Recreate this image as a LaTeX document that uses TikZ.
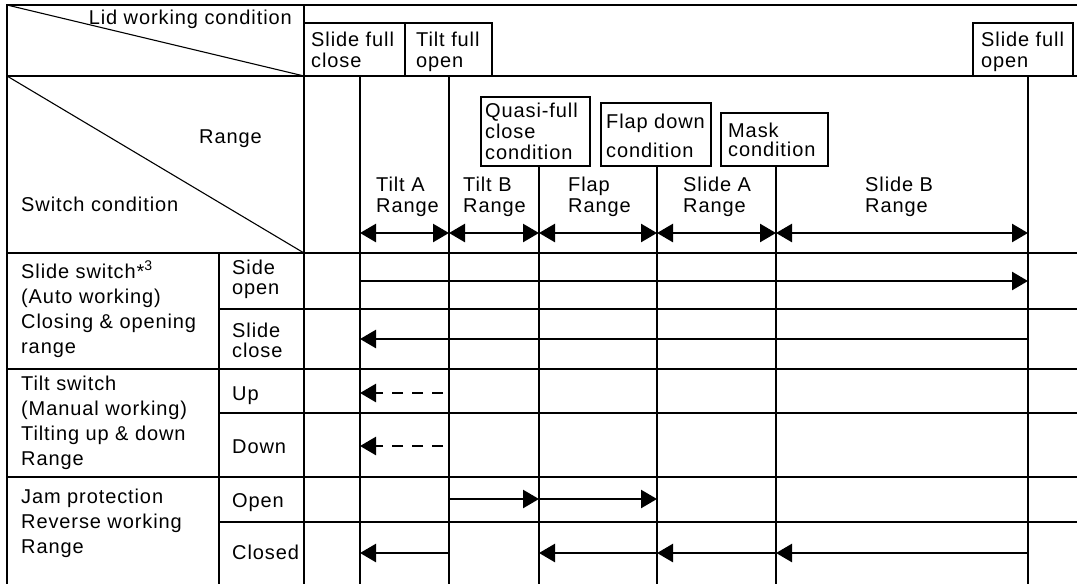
\documentclass[tikz,border=0pt]{standalone}
\usepackage{fontspec}
\setmainfont{Liberation Sans}[LetterSpace=4.5]
\usetikzlibrary{arrows.meta}
\begin{document}
\begin{tikzpicture}[x=1pt,y=-1pt,
  grid/.style={line width=1.1pt},
  arr/.style={line width=2.5pt,-{Triangle[length=16pt,width=18pt]}},
  rng/.style={line width=2.5pt,{Triangle[length=16pt,width=18pt]}-{Triangle[length=16pt,width=18pt]}},
  dsh/.style={arr,dash pattern=on 11pt off 9pt},
  txt/.style={inner sep=0pt,align=left,font=\fontsize{20}{25}\selectfont},
  tA/.style={inner sep=0pt,align=left,font=\fontsize{20}{21}\selectfont},
  tB/.style={inner sep=0pt,align=left,font=\fontsize{20}{29}\selectfont},
  tC/.style={inner sep=0pt,align=left,font=\fontsize{20}{19}\selectfont},
  tD/.style={inner sep=0pt,align=left,font=\fontsize{20}{20}\selectfont}]
\useasboundingbox (0,0) rectangle (1077,584);
% named positions
\coordinate (c1) at (360,0);
\coordinate (c2) at (449,0);
\coordinate (c3) at (539,0);
\coordinate (c4) at (657,0);
\coordinate (c5) at (776,0);
\coordinate (c6) at (1028,0);
\coordinate (cd) at (443,0);
\coordinate (rR) at (0,233);
\coordinate (r1) at (0,281);
\coordinate (r2) at (0,339);
\coordinate (r3) at (0,393);
\coordinate (r4) at (0,446);
\coordinate (r5) at (0,499);
\coordinate (r6) at (0,553);
% grid
\draw[grid] (7,584) -- (7,5) -- (1077,5);
\foreach \y in {76,253,369,477} \draw[grid] (7,\y) -- (1077,\y);
\foreach \y in {309,413,522} \draw[grid] (219,\y) -- (1077,\y);
\draw[grid] (219,253) -- (219,584);
\draw[grid] (304,5) -- (304,584);
\foreach \x in {360,449,1028} \draw[grid] (\x,76) -- (\x,584);
\foreach \x in {539,657,776} \draw[grid] (\x,166) -- (\x,584);
\draw[grid] (7,5) -- (304,76);
\draw[grid] (7,76) -- (304,253);
\draw[grid] (304,23) -- (492,23) -- (492,76);
\draw[grid] (405,23) -- (405,76);
\draw[grid] (973,76) -- (973,23) -- (1073,23) -- (1073,76);
\draw[grid] (481,97) rectangle (590,166);
\draw[grid] (601,103) rectangle (711,166);
\draw[grid] (721,113) rectangle (828,166);
% header texts
\node[txt,anchor=base east] (lid) at (292,24) {Lid working condition};
\node[txt,anchor=base west] (rngh) at (199,143) {Range};
\node[txt,anchor=base west] (swc) at (21,211) {Switch condition};
\node[tA,anchor=north west] (sfc) at (311,31.7) {Slide full\\close};
\node[tA,anchor=north west] (tfo) at (416,31.7) {Tilt full\\open};
\node[tA,anchor=north west] (sfo) at (981,31.7) {Slide full\\open};
\node[tA,anchor=north west] (qfc) at (485,102.7) {Quasi-full\\close\\condition};
\node[tB,anchor=north west] (fdc) at (606,113.7) {Flap down\\condition};
\node[tC,anchor=north west] (msk) at (728,122.7) {Mask\\condition};
\node[tA,anchor=north west] (ta) at (376,176.7) {Tilt A\\Range};
\node[tA,anchor=north west] (tb) at (463,176.7) {Tilt B\\Range};
\node[tA,anchor=north west] (fl) at (568,176.7) {Flap\\Range};
\node[tA,anchor=north west] (sa) at (683,176.7) {Slide A\\Range};
\node[tA,anchor=north west] (sb) at (865,176.7) {Slide B\\Range};
% left texts
\node[txt,anchor=north west] (g1) at (21,263.7) {Slide switch*\smash{\textsuperscript{3}}\\(Auto working)\\Closing \& opening\\range};
\node[txt,anchor=north west] (g2) at (21,375.7) {Tilt switch\\(Manual working)\\Tilting up \& down\\Range};
\node[txt,anchor=north west] (g3) at (21,488.7) {Jam protection\\Reverse working\\Range};
\node[tD,anchor=north west] (s1) at (232,259.7) {Side\\open};
\node[tD,anchor=north west] (s2) at (232,322.4) {Slide\\close};
\node[txt,anchor=base west] (s3) at (232,400) {Up};
\node[txt,anchor=base west] (s4) at (232,453) {Down};
\node[txt,anchor=base west] (s5) at (232,507) {Open};
\node[txt,anchor=base west] (s6) at (232,559) {Closed};
% range arrows
\draw[rng] (c1|-rR) -- (c2|-rR);
\draw[rng] (c2|-rR) -- (c3|-rR);
\draw[rng] (c3|-rR) -- (c4|-rR);
\draw[rng] (c4|-rR) -- (c5|-rR);
\draw[rng] (c5|-rR) -- (c6|-rR);
% working arrows
\draw[arr] (c1|-r1) -- (c6|-r1);
\draw[arr] (c6|-r2) -- (c1|-r2);
\draw[dsh] (cd|-r3) -- (c1|-r3);
\draw[dsh] (cd|-r4) -- (c1|-r4);
\draw[arr] (c2|-r5) -- (c3|-r5);
\draw[arr] (c3|-r5) -- (c4|-r5);
\draw[arr] (c2|-r6) -- (c1|-r6);
\draw[arr] (c4|-r6) -- (c3|-r6);
\draw[arr] (c5|-r6) -- (c4|-r6);
\draw[arr] (c6|-r6) -- (c5|-r6);
\end{tikzpicture}
\end{document}
